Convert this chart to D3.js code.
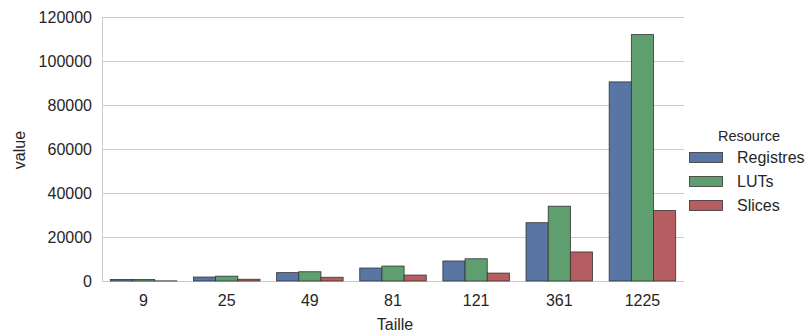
<!DOCTYPE html>
<html><head><meta charset="utf-8">
<script src="https://cdn.jsdelivr.net/npm/d3@7"></script>
<style>body{margin:0;background:#fff}svg{display:block;font-family:"Liberation Sans",Arial,sans-serif}</style>
</head><body><svg id="c" width="807" height="334"></svg>
<script>
const categories = ["9","25","49","81","121","361","1225"];
const series = ["Registres","LUTs","Slices"];
const registres = [700, 1800, 3800, 5900, 9100, 26500, 90500];
const luts = [650, 2200, 4200, 6800, 10100, 34000, 112000];
const slices = [60, 800, 1700, 2700, 3600, 13200, 32000];
const yTicks = [0,20000,40000,60000,80000,100000,120000];
const colors = ["#5975a4","#5f9e6e","#b55d60"];
const values = [registres, luts, slices];

const svg = d3.select("#c");
const m = {l:102, r:684, t:17, b:281};
const x = d3.scaleBand().domain(categories).range([m.l, m.r]).paddingInner(0).paddingOuter(0);
const x1 = d3.scaleBand().domain(series).range([x.bandwidth()*0.1, x.bandwidth()*0.9]);
const y = d3.scaleLinear().domain([0,120000]).range([m.b, m.t]);
const txt = "#262626";

// grid
svg.append("g").selectAll("line").data(yTicks).join("line")
  .attr("x1", m.l).attr("x2", m.r).attr("y1", d=>y(d)+0.5).attr("y2", d=>y(d)+0.5)
  .attr("stroke","#cccccc").attr("stroke-width",1);
// left spine
svg.append("line").attr("x1",m.l+0.5).attr("x2",m.l+0.5).attr("y1",m.t).attr("y2",m.b+1)
  .attr("stroke","#cccccc").attr("stroke-width",1);

// bars
series.forEach((s,i)=>{
  svg.append("g").selectAll("rect").data(categories).join("rect")
    .attr("x", c=>x(c)+x1(s))
    .attr("width", x1.bandwidth())
    .attr("y", (c,j)=>y(values[i][j]))
    .attr("height", (c,j)=>y(0)-y(values[i][j]))
    .attr("fill", colors[i]).attr("stroke","#333333").attr("stroke-width",0.8);
});

// y axis labels
svg.append("g").selectAll("text").data(yTicks).join("text")
  .attr("x", 92).attr("y", d=>y(d)).attr("dy","0.35em").attr("text-anchor","end")
  .attr("font-size",16).attr("fill",txt).text(d=>d);
// x axis labels
svg.append("g").selectAll("text").data(categories).join("text")
  .attr("x", d=>x(d)+x.bandwidth()/2).attr("y", 306).attr("text-anchor","middle")
  .attr("font-size",16).attr("fill",txt).text(d=>d);
svg.append("text").attr("x", 395).attr("y", 330).attr("text-anchor","middle")
  .attr("font-size",16).attr("fill",txt).text("Taille");
svg.append("text").attr("transform","translate(25,150) rotate(-90)").attr("text-anchor","middle")
  .attr("font-size",16).attr("fill",txt).text("value");

// legend
const lg = svg.append("g");
lg.append("text").attr("x",749).attr("y",141).attr("text-anchor","middle")
  .attr("font-size",14.5).attr("fill",txt).text("Resource");
series.forEach((s,i)=>{
  const yy = 152 + i*24;
  lg.append("rect").attr("x",689.5).attr("y",yy+0.5).attr("width",33).attr("height",10)
    .attr("fill",colors[i]).attr("stroke","#333333").attr("stroke-width",0.8);
  lg.append("text").attr("x",737).attr("y",yy+5).attr("dy","0.35em")
    .attr("font-size",16).attr("fill",txt).text(s);
});
</script></body></html>
